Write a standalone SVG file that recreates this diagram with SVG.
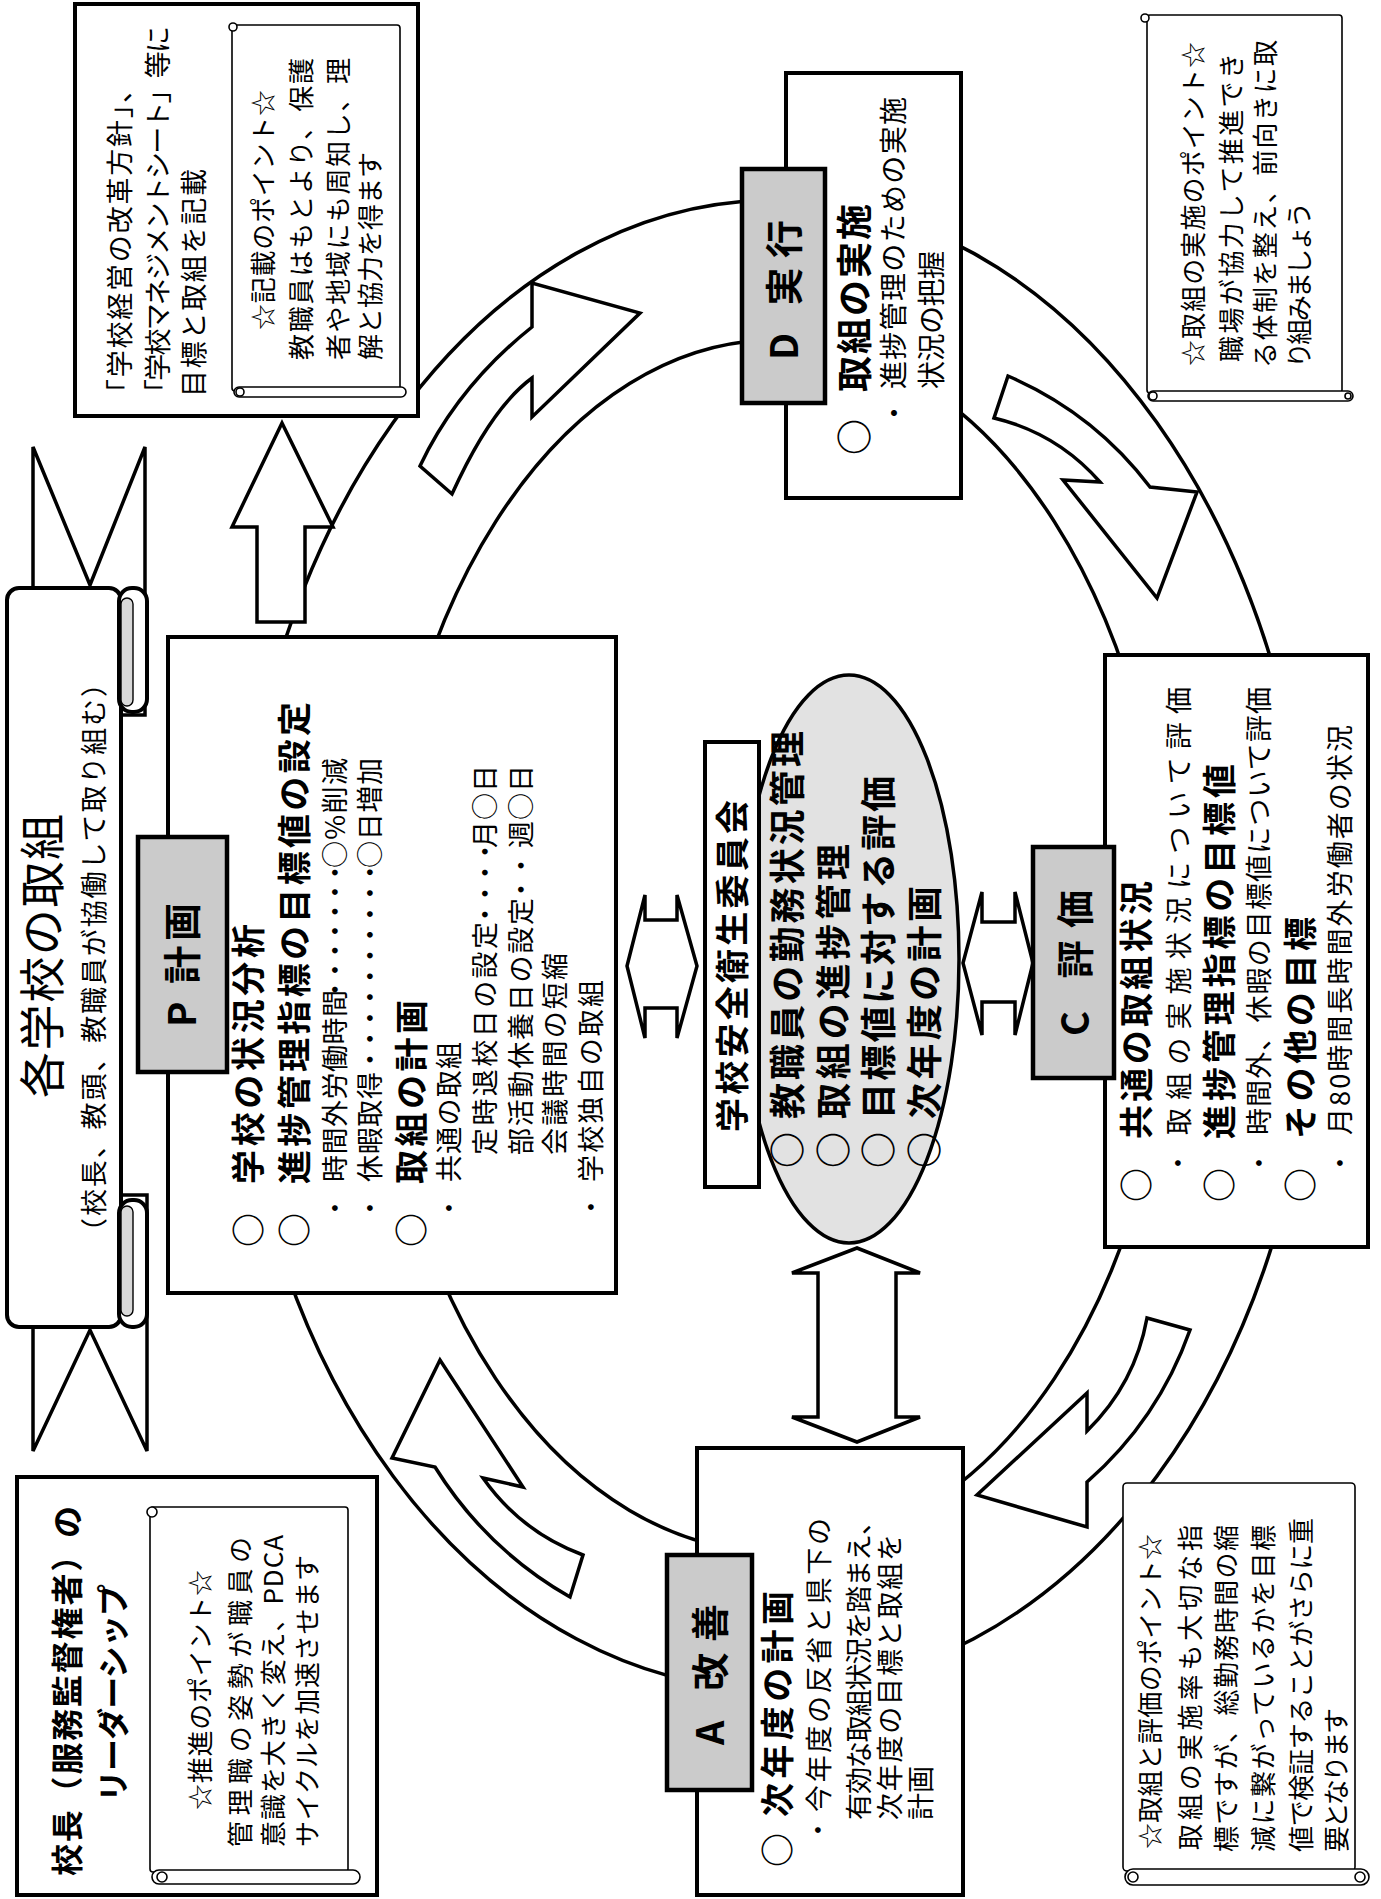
<svg xmlns="http://www.w3.org/2000/svg" width="1381" height="1899" viewBox="0 0 1381 1899">
<defs>
<style>
.t{font-family:"Noto Sans CJK JP","Noto Sans CJK SC",sans-serif;fill:#000}
.b{font-weight:bold}
.s26{font-size:26px}.s27{font-size:27px}.s28{font-size:28px}.s32{font-size:32px}.s34{font-size:34px}.s36{font-size:36px}.s38{font-size:38px}.s46{font-size:46px}
.box{fill:#fff;stroke:#000;stroke-width:4}
.lbl{fill:#cbcbcb;stroke:#000;stroke-width:4.5}
.ring{fill:none;stroke:#000;stroke-width:3.5}
.arr{fill:#fff;stroke:#000;stroke-width:3.5;stroke-linejoin:miter}
.scr{fill:#fff;stroke:#000;stroke-width:1.6}
.curl{fill:#d8d8d8;stroke:#000;stroke-width:1.4}
</style>
</defs>
<rect width="1381" height="1899" fill="#fff"/>

<g id="connectors">
 <path class="ring" d="M235,960 A540,760 0 0 1 1315,960 A540,730 0 0 1 235,960 Z"/>
 <path class="ring" d="M380,960 A395,620 0 0 1 1170,960 A395,592 0 0 1 380,960 Z"/>
 <path class="arr" d="M420,466 Q458,386 532,327 L532,283 L640,313 L532,417 L532,378 Q491,408 452,494 Z"/>
 <path class="arr" d="M1008,376 Q1094,413 1150,487 L1197,492 L1157,598 L1063,480 L1100,482 Q1057,433 994,418 Z"/>
 <path class="arr" d="M1190,1330 Q1158,1420 1087,1482 L1087,1527 L977,1495 L1087,1393 L1087,1431 Q1135,1384 1147,1318 Z"/>
 <path class="arr" d="M570,1597 Q486,1549 435,1467 L392,1458 L440,1360 L523,1487 L483,1478 Q521,1532 583,1555 Z"/>
 <path class="arr" d="M282,423 L333,527 L305,527 L305,622 L257,622 L257,527 L232,527 Z"/>
 <path class="arr" d="M627,966 L645,895 L645,920 L677,920 L677,895 L697,966 L677,1038 L677,1008 L645,1008 L645,1038 Z"/>
 <path class="arr" d="M963,963 L982,892 L982,922 L1015,922 L1015,892 L1033,963 L1015,1035 L1015,1002 L982,1002 L982,1035 Z"/>
 <path class="arr" d="M857,1248 L920,1273 L896,1273 L896,1417 L920,1417 L857,1442 L792,1417 L818,1417 L818,1273 L792,1273 Z"/>
</g>

<g id="banner">
 <path class="arr" d="M33,600 L33,447 L90,585 L145,447 L145,715 L33,715 Z"/>
 <path class="arr" d="M33,1310 L33,1451 L90,1330 L147,1451 L147,1195 L33,1195 Z"/>
 <rect class="box" x="7" y="588" width="114" height="739" rx="12"/>
 <rect class="box" x="119" y="588" width="28" height="124" rx="13"/>
 <rect class="curl" x="121" y="598" width="12" height="108" rx="6"/>
 <rect class="box" x="119" y="1200" width="28" height="127" rx="13"/>
 <rect class="curl" x="121" y="1206" width="12" height="110" rx="6"/>
 <g transform="rotate(-90)" class="t">
  <text class="s46" x="-1098" y="59" textLength="284" lengthAdjust="spacing">各学校の取組</text>
  <text class="s27" x="-1245" y="104" textLength="575" lengthAdjust="spacing">（校長、教頭、教職員が協働して取り組む）</text>
 </g>
</g>

<g id="note-plan">
 <rect class="box" x="75" y="4" width="343" height="412"/>
 <rect class="scr" x="232" y="25" width="168" height="366" rx="3"/>
 <circle class="scr" cx="233" cy="27" r="4"/>
 <rect class="scr" x="234" y="387" width="172" height="10" rx="5"/>
 <circle class="scr" cx="240" cy="392" r="4"/>
 <g transform="rotate(-90)" class="t s27">
  <text x="-406" y="130" textLength="330" lengthAdjust="spacing">「学校経営の改革方針」、</text>
  <text x="-406" y="168" textLength="380" lengthAdjust="spacing">「学校マネジメントシート」等に</text>
  <text x="-397" y="204" textLength="228" lengthAdjust="spacing">目標と取組を記載</text>
 </g>
 <g transform="rotate(-90)" class="t s26">
  <text x="-330" y="273" textLength="240" lengthAdjust="spacing">☆記載のポイント☆</text>
  <text x="-360" y="311" textLength="302" lengthAdjust="spacing">教職員はもとより、保護</text>
  <text x="-360" y="348" textLength="302" lengthAdjust="spacing">者や地域にも周知し、理</text>
  <text x="-360" y="380" textLength="208" lengthAdjust="spacing">解と協力を得ます</text>
 </g>
</g>

<g id="node-D">
 <rect class="box" x="786" y="73" width="175" height="425"/>
 <rect class="lbl" x="742" y="169" width="83" height="234"/>
 <g transform="rotate(-90)" class="t">
  <text class="s38 b" x="-360" y="798" textLength="140" lengthAdjust="spacing">D 実行</text>
  <text class="s36 b" x="-437" y="868" text-anchor="middle">○</text>
  <text class="s36 b" x="-392" y="868" textLength="188" lengthAdjust="spacing">取組の実施</text>
  <text class="s28" x="-413" y="905" text-anchor="middle">・</text>
  <text class="s28" x="-389" y="904" textLength="292" lengthAdjust="spacing">進捗管理のための実施</text>
  <text class="s28" x="-389" y="942" textLength="138" lengthAdjust="spacing">状況の把握</text>
 </g>
</g>

<g id="note-do">
 <rect class="scr" x="1147" y="15" width="195" height="378" rx="3"/>
 <circle class="scr" cx="1145" cy="18" r="4"/>
 <rect class="scr" x="1148" y="391" width="205" height="10" rx="5"/>
 <circle class="scr" cx="1153" cy="396" r="4"/>
 <circle class="scr" cx="1348" cy="396" r="3"/>
 <g transform="rotate(-90)" class="t s26">
  <text x="-366" y="1203" textLength="324" lengthAdjust="spacing">☆取組の実施のポイント☆</text>
  <text x="-362" y="1241" textLength="309" lengthAdjust="spacing">職場が協力して推進でき</text>
  <text x="-368" y="1275" textLength="328" lengthAdjust="spacing">る体制を整え、前向きに取</text>
  <text x="-368" y="1309" textLength="166" lengthAdjust="spacing">り組みましょう</text>
 </g>
</g>

<g id="node-P">
 <rect class="box" x="168" y="637" width="448" height="656"/>
 <rect class="lbl" x="138" y="837" width="89" height="235"/>
 <g transform="rotate(-90)" class="t">
  <text class="s38 b" x="-1027" y="196" textLength="124" lengthAdjust="spacing">P 計画</text>
  <text class="s34 b" x="-1230" y="261" text-anchor="middle">○</text>
  <text class="s34 b" x="-1184" y="261" textLength="260" lengthAdjust="spacing">学校の状況分析</text>
  <text class="s34 b" x="-1230" y="307" text-anchor="middle">○</text>
  <text class="s34 b" x="-1184" y="307" textLength="482" lengthAdjust="spacing">進捗管理指標の目標値の設定</text>
  <text class="s27" x="-1208" y="345" text-anchor="middle">・</text>
  <text class="s27" x="-1182" y="345" textLength="192" lengthAdjust="spacing">時間外労働時間</text>
  <text class="s27" x="-1003" y="345" style="letter-spacing:-7.5px">・・・・・・・</text>
  <text class="s27" x="-868" y="345" textLength="110" lengthAdjust="spacing">○%削減</text>
  <text class="s27" x="-1208" y="380" text-anchor="middle">・</text>
  <text class="s27" x="-1182" y="380" textLength="110" lengthAdjust="spacing">休暇取得</text>
  <text class="s27" x="-1073" y="380" style="letter-spacing:-6.2px">・・・・・・・・・・</text>
  <text class="s27" x="-868" y="380" textLength="110" lengthAdjust="spacing">○日増加</text>
  <text class="s34 b" x="-1230" y="424" text-anchor="middle">○</text>
  <text class="s34 b" x="-1184" y="424" textLength="184" lengthAdjust="spacing">取組の計画</text>
  <text class="s27" x="-1208" y="459" text-anchor="middle">・</text>
  <text class="s27" x="-1182" y="459" textLength="140" lengthAdjust="spacing">共通の取組</text>
  <text class="s27" x="-1155" y="495" textLength="233" lengthAdjust="spacing">定時退校日の設定</text>
  <text class="s27" x="-928" y="495" style="letter-spacing:-6px">・・・・</text>
  <text class="s27" x="-848" y="495" textLength="83" lengthAdjust="spacing">月○日</text>
  <text class="s27" x="-1155" y="531" textLength="257" lengthAdjust="spacing">部活動休養日の設定</text>
  <text class="s27" x="-903" y="531" style="letter-spacing:-3px">・・</text>
  <text class="s27" x="-848" y="531" textLength="83" lengthAdjust="spacing">週○日</text>
  <text class="s27" x="-1155" y="565" textLength="202" lengthAdjust="spacing">会議時間の短縮</text>
  <text class="s27" x="-1207" y="601" text-anchor="middle">・</text>
  <text class="s27" x="-1182" y="601" textLength="202" lengthAdjust="spacing">学校独自の取組</text>
 </g>
</g>

<g id="node-committee">
 <ellipse cx="849" cy="959" rx="110" ry="284" fill="#e2e2e2" stroke="#000" stroke-width="3.5"/>
 <rect class="box" x="705" y="742" width="54" height="445"/>
 <g transform="rotate(-90)" class="t b">
  <text class="s34" x="-1132" y="745" textLength="332" lengthAdjust="spacing">学校安全衛生委員会</text>
  <text class="s36" x="-1150" y="801" text-anchor="middle">○</text>
  <text class="s36" x="-1119" y="801" textLength="388" lengthAdjust="spacing">教職員の勤務状況管理</text>
  <text class="s36" x="-1150" y="847" text-anchor="middle">○</text>
  <text class="s36" x="-1119" y="847" textLength="275" lengthAdjust="spacing">取組の進捗管理</text>
  <text class="s36" x="-1150" y="892" text-anchor="middle">○</text>
  <text class="s36" x="-1119" y="892" textLength="343" lengthAdjust="spacing">目標値に対する評価</text>
  <text class="s36" x="-1150" y="938" text-anchor="middle">○</text>
  <text class="s36" x="-1119" y="938" textLength="233" lengthAdjust="spacing">次年度の計画</text>
 </g>
</g>

<g id="node-C">
 <rect class="box" x="1105" y="655" width="263" height="592"/>
 <rect class="lbl" x="1033" y="847" width="81" height="231"/>
 <g transform="rotate(-90)" class="t">
  <text class="s38 b" x="-1036" y="1089" textLength="146" lengthAdjust="spacing">C 評価</text>
  <text class="s34 b" x="-1185" y="1149" text-anchor="middle">○</text>
  <text class="s34 b" x="-1139" y="1149" textLength="258" lengthAdjust="spacing">共通の取組状況</text>
  <text class="s27" x="-1163" y="1188" text-anchor="middle">・</text>
  <text class="s27" x="-1135" y="1189" textLength="448" lengthAdjust="spacing">取組の実施状況について評価</text>
  <text class="s34 b" x="-1185" y="1232" text-anchor="middle">○</text>
  <text class="s34 b" x="-1139" y="1232" textLength="375" lengthAdjust="spacing">進捗管理指標の目標値</text>
  <text class="s27" x="-1163" y="1269" text-anchor="middle">・</text>
  <text class="s27" x="-1135" y="1269" textLength="448" lengthAdjust="spacing">時間外、休暇の目標値について評価</text>
  <text class="s34 b" x="-1185" y="1313" text-anchor="middle">○</text>
  <text class="s34 b" x="-1139" y="1313" textLength="222" lengthAdjust="spacing">その他の目標</text>
  <text class="s27" x="-1163" y="1350" text-anchor="middle">・</text>
  <text class="s27" x="-1135" y="1350" textLength="410" lengthAdjust="spacing">月80時間長時間外労働者の状況</text>
 </g>
</g>

<g id="node-A">
 <rect class="box" x="697" y="1448" width="266" height="447"/>
 <rect class="lbl" x="667" y="1555" width="85" height="235"/>
 <g transform="rotate(-90)" class="t">
  <text class="s38 b" x="-1745" y="724" textLength="141" lengthAdjust="spacing">A 改善</text>
  <text class="s34 b" x="-1850" y="790" text-anchor="middle">○</text>
  <text class="s34 b" x="-1817" y="790" textLength="226" lengthAdjust="spacing">次年度の計画</text>
  <text class="s27" x="-1830" y="828" text-anchor="middle">・</text>
  <text class="s27" x="-1812" y="829" textLength="294" lengthAdjust="spacing">今年度の反省と県下の</text>
  <text class="s27" x="-1820" y="869" textLength="312" lengthAdjust="spacing">有効な取組状況を踏まえ、</text>
  <text class="s27" x="-1820" y="900" textLength="286" lengthAdjust="spacing">次年度の目標と取組を</text>
  <text class="s27" x="-1820" y="931">計画</text>
 </g>
</g>

<g id="note-leader">
 <rect class="box" x="17" y="1477" width="360" height="418"/>
 <rect class="scr" x="150" y="1507" width="198" height="365" rx="3"/>
 <circle class="scr" cx="152" cy="1512" r="5"/>
 <rect class="scr" x="152" y="1870" width="208" height="14" rx="7"/>
 <circle class="scr" cx="162" cy="1877" r="5"/>
 <g transform="rotate(-90)" class="t">
  <text class="s32 b" x="-1876" y="79" textLength="370" lengthAdjust="spacing">校長（服務監督権者）の</text>
  <text class="s32 b" x="-1802" y="125" textLength="218" lengthAdjust="spacing">リーダーシップ</text>
  <text class="s26" x="-1810" y="210" textLength="240" lengthAdjust="spacing">☆推進のポイント☆</text>
  <text class="s26" x="-1847" y="250" textLength="310" lengthAdjust="spacing">管理職の姿勢が職員の</text>
  <text class="s26" x="-1847" y="283" textLength="312" lengthAdjust="spacing">意識を大きく変え、PDCA</text>
  <text class="s26" x="-1847" y="317" textLength="292" lengthAdjust="spacing">サイクルを加速させます</text>
 </g>
</g>

<g id="note-check">
 <rect class="scr" x="1123" y="1483" width="232" height="388" rx="4"/>
 <rect class="scr" x="1125" y="1869" width="244" height="16" rx="8"/>
 <circle class="scr" cx="1133" cy="1877" r="5"/>
 <circle class="scr" cx="1360" cy="1877" r="5"/>
 <g transform="rotate(-90)" class="t s26">
  <text x="-1849" y="1160" textLength="315" lengthAdjust="spacing">☆取組と評価のポイント☆</text>
  <text x="-1850" y="1200" textLength="325" lengthAdjust="spacing">取組の実施率も大切な指</text>
  <text x="-1852" y="1236" textLength="327" lengthAdjust="spacing">標ですが、総勤務時間の縮</text>
  <text x="-1852" y="1273" textLength="327" lengthAdjust="spacing">減に繋がっているかを目標</text>
  <text x="-1852" y="1311" textLength="334" lengthAdjust="spacing">値で検証することがさらに重</text>
  <text x="-1852" y="1346" textLength="144" lengthAdjust="spacing">要となります</text>
 </g>
</g>
</svg>
